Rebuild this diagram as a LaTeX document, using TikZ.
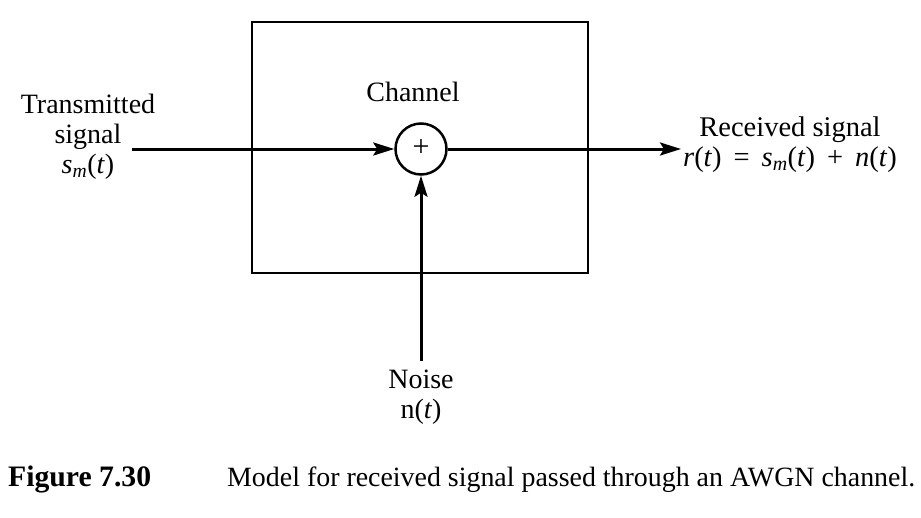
\documentclass[tikz,border=0pt]{standalone}
\usepackage{fontspec}
\setmainfont{Liberation Serif}
\usetikzlibrary{arrows.meta}
\newcommand{\tv}{\textit{t}}
\newcommand{\smt}{\textit{s}\textsubscript{\textit{m}}(\tv)}
\newcommand{\opsp}{\hspace{0.42em}}
\tikzset{
  sig/.style={line width=3pt,-{Stealth[length=21pt,width=13pt,inset=4pt]}},
  lbl/.style={align=center,font=\fontsize{28}{30}\selectfont,inner sep=0pt}
}
\begin{document}
\begin{tikzpicture}[x=1pt,y=1pt]
			\useasboundingbox (0,0) rectangle (921,-517);
			% Canal
			\draw[line width=2pt] (252,-22) rectangle (588,-273);
			\node[lbl] (channel) at (413,-92) {Channel};
			\node[draw,circle,line width=2.5pt,minimum size=51pt,inner sep=0pt,font=\fontsize{30}{30}\selectfont] (sum) at (421,-149) {\raisebox{1pt}{+}};

			% Entradas y salida
			\node[lbl] (txlabel) at (88,-137) {Transmitted\\signal\\\smt};
			\node[lbl,font=\fontsize{28.5}{30}\selectfont] (rxlabel) at (790,-145) {Received signal\\\textit{r}(\tv)\opsp=\opsp\smt\opsp+\opsp\textit{n}(\tv)};
			\node[lbl] (noiselabel) at (421,-397) {Noise\\n(\tv)};

			\coordinate (in) at (132,-149);
			\coordinate (out) at (681,-149);
			\coordinate (noisein) at (421,-361);

			\draw[sig] (in) -- (sum.west);
			\draw[sig] (sum.east) -- (out);
			\draw[sig] (noisein) -- (sum.south);

			% Pie
			\node[anchor=base west,inner sep=0pt,font=\fontsize{27.9}{30}\selectfont] (caption) at (8,-486) {{\fontsize{29.7}{30}\selectfont\bfseries Figure 7.30}\hspace{76pt}Model for received signal passed through an AWGN channel.};
		    \end{tikzpicture}
\end{document}
